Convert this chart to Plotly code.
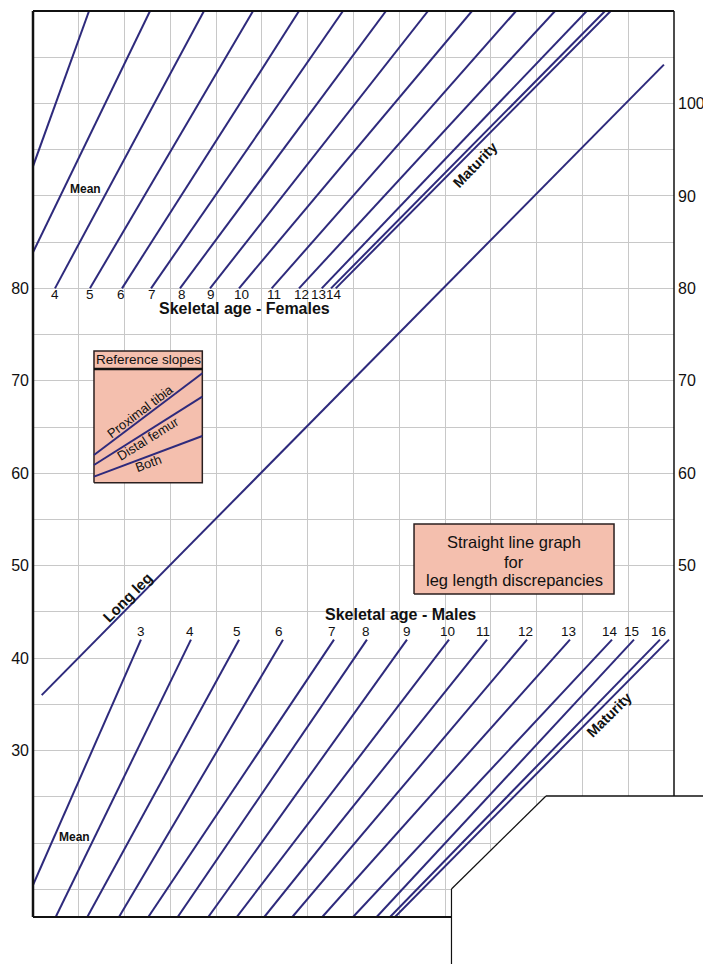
import plotly.graph_objects as go

# ---------------- data (chart units: x 0..70, y 12..110) ----------------
X_RANGE = [0, 70]
Y_RANGE = [12, 110]

# Female skeletal-age lines (from start point up to the top border)
female_start_x = [0, 0, 2.40, 6.22, 9.72, 12.89, 16.05, 19.33, 22.50, 26.06, 29.05, 31.53, 32.54, 33.06]
female_start_y = [93.2, 83.9, 80, 80, 80, 80, 80, 80, 80, 80, 80, 80, 80, 80]
female_end_x = [6.12, 12.78, 18.67, 24.03, 29.05, 33.85, 38.55, 43.14, 47.94, 52.75, 57.01, 60.47, 62.47, 63.09]
female_end_y = [110] * 14

female_labels = ["4", "5", "6", "7", "8", "9", "10", "11", "12", "13", "14"]
female_label_x = [2.40, 6.22, 9.61, 12.99, 16.27, 19.44, 22.82, 26.31, 29.27, 31.13, 32.87]
female_label_y = 79.3

# Male skeletal-age lines (from top point down to the bottom / left border)
male_top_x = [11.79, 17.25, 22.50, 27.30, 32.87, 36.47, 40.84, 45.43, 49.58, 53.95, 58.64, 63.23, 65.63, 68.47, 69.46]
male_top_y = [42] * 15
male_bottom_x = [0, 2.48, 5.93, 9.39, 12.59, 15.80, 19.14, 22.25, 25.26, 28.32, 31.59, 34.95, 37.53, 38.99, 39.53]
male_bottom_y = [15.46] + [12] * 14

male_labels = ["3", "4", "5", "6", "7", "8", "9", "10", "11", "12", "13", "14", "15", "16"]
male_label_x = [11.79, 17.15, 22.28, 26.90, 32.69, 36.37, 40.88, 45.25, 49.18, 53.80, 58.53, 63.01, 65.38, 68.29]
male_label_y = 42.85

# Long leg line
long_leg_x = [0.95, 68.9]
long_leg_y = [36.0, 104.2]

# Reference slopes (inside the box)
ref_names = ["Proximal tibia", "Distal femur", "Both"]
ref_x = [6.66, 18.49]
ref_y0 = [61.97, 60.89, 59.63]
ref_y1 = [70.81, 68.28, 64.03]

# Axis tick labels
left_ticks = [30, 40, 50, 60, 70, 80]
right_ticks = [50, 60, 70, 80, 90, 100]
grid_y = list(range(15, 110, 5))
grid_x = list(range(5, 70, 5))

# ---------------- styles / layout constants ----------------
NAVY = "#2e2a7c"
SALMON = "#f4bfae"
GRID = "#c8c8c8"
FONT = "Liberation Sans, Arial, Helvetica, sans-serif"

# page body has an 8px margin, so the figure is drawn 8px in from the corner
W, H = 703, 956
ML, MR, MT, MB = 25, 37, 3, 47

# cutout corner (bottom right) in chart units
CUT_X = 45.7
CUT_Y = 15.03
DIAG_X = 56.02
STEP_Y = 25.09

REF_BOX = dict(x0=6.66, x1=18.49, y0=58.98, y1=73.22, header=71.28)
INFO_BOX = dict(x0=41.61, x1=63.45, y0=46.94, y1=54.51)


def xp(v):
    return (v - X_RANGE[0]) / (X_RANGE[1] - X_RANGE[0])


def yp(v):
    return (v - Y_RANGE[0]) / (Y_RANGE[1] - Y_RANGE[0])


def segs(x0s, y0s, x1s, y1s):
    xs, ys = [], []
    for a, b, c, d in zip(x0s, y0s, x1s, y1s):
        xs += [a, c, None]
        ys += [b, d, None]
    return xs, ys


fig = go.Figure()

# white cutout (hides grid)
fig.add_trace(go.Scatter(
    x=[CUT_X, CUT_X, DIAG_X, X_RANGE[1] + 1, X_RANGE[1] + 1, CUT_X],
    y=[Y_RANGE[0] - 1, CUT_Y, STEP_Y, STEP_Y, Y_RANGE[0] - 1, Y_RANGE[0] - 1],
    fill="toself", fillcolor="white", mode="none", hoverinfo="skip", showlegend=False))

# boxes
for b in (REF_BOX, INFO_BOX):
    fig.add_trace(go.Scatter(
        x=[b["x0"], b["x1"], b["x1"], b["x0"], b["x0"]],
        y=[b["y0"], b["y0"], b["y1"], b["y1"], b["y0"]],
        fill="toself", fillcolor=SALMON, mode="lines",
        line=dict(color="#2a1f1f", width=1.5), hoverinfo="skip", showlegend=False))
fig.add_trace(go.Scatter(
    x=[REF_BOX["x0"], REF_BOX["x1"]], y=[REF_BOX["header"], REF_BOX["header"]],
    mode="lines", line=dict(color="#111", width=2.5), hoverinfo="skip", showlegend=False))

# female lines
fx, fy = segs(female_start_x, female_start_y, female_end_x, female_end_y)
fig.add_trace(go.Scatter(x=fx, y=fy, mode="lines", line=dict(color=NAVY, width=2),
                         hoverinfo="skip", showlegend=False))
# male lines
mx, my = segs(male_top_x, male_top_y, male_bottom_x, male_bottom_y)
fig.add_trace(go.Scatter(x=mx, y=my, mode="lines", line=dict(color=NAVY, width=2),
                         hoverinfo="skip", showlegend=False))
# long leg
fig.add_trace(go.Scatter(x=long_leg_x, y=long_leg_y, mode="lines", line=dict(color=NAVY, width=2),
                         hoverinfo="skip", showlegend=False))
# reference slopes
rx, ry = segs([ref_x[0]] * 3, ref_y0, [ref_x[1]] * 3, ref_y1)
fig.add_trace(go.Scatter(x=rx, y=ry, mode="lines", line=dict(color=NAVY, width=2),
                         hoverinfo="skip", showlegend=False))
# dummy for right axis
fig.add_trace(go.Scatter(x=[None], y=[None], yaxis="y2", showlegend=False, hoverinfo="skip"))

ann = []


def txt(x, y, t, size, bold=False, angle=0, color="#111"):
    ann.append(dict(x=x, y=y, xref="x", yref="y", text=f"<b>{t}</b>" if bold else t,
                    showarrow=False, textangle=angle, xanchor="center", yanchor="middle",
                    borderpad=0,
                    font=dict(size=size, color=color, family=FONT)))


for lab, x in zip(female_labels, female_label_x):
    txt(x, female_label_y, lab, 13.5)
for lab, x in zip(male_labels, male_label_x):
    txt(x, male_label_y, lab, 13.5)

txt(23.15, 77.8, "Skeletal age - Females", 16, bold=True)
txt(40.08, 44.67, "Skeletal age - Males", 16, bold=True)
txt(5.68, 90.71, "Mean", 12, bold=True)
txt(4.51, 20.69, "Mean", 12, bold=True)
txt(48.27, 93.34, "Maturity", 14.5, bold=True, angle=-46)
txt(62.9, 33.85, "Maturity", 14.5, bold=True, angle=-45)
txt(10.27, 46.61, "Long leg", 15, bold=True, angle=-45)

txt(12.56, 72.25, "Reference slopes", 13.5)
txt(11.69, 66.66, "Proximal tibia", 13, angle=-37)
txt(12.59, 63.78, "Distal femur", 13, angle=-32)
txt(12.59, 61.07, "Both", 13, angle=-20.5)

txt(52.53, 52.56, "Straight line graph", 16.5)
txt(52.53, 50.40, "for", 16.5)
txt(52.53, 48.45, "leg length discrepancies", 16.5)

# frame shapes (paper coords)
shapes = []


def pline(x0, y0, x1, y1, w, c="#111"):
    shapes.append(dict(type="line", xref="paper", yref="paper", x0=x0, y0=y0, x1=x1, y1=y1,
                       line=dict(color=c, width=w), layer="above"))


right_edge = (W - ML) / (W - ML - MR)
bottom_edge = -MB / (H - MT - MB)
pline(0, 0, 0, 1, 2.5)                      # left
pline(0, 1, 1, 1, 2)                        # top
pline(1, 1, 1, yp(STEP_Y), 1.5)             # right
pline(0, 0, xp(CUT_X), 0, 2)                # bottom
pline(xp(CUT_X), yp(CUT_Y), xp(CUT_X), bottom_edge, 1.2)
pline(xp(CUT_X), yp(CUT_Y), xp(DIAG_X), yp(STEP_Y), 1.2)
pline(xp(DIAG_X), yp(STEP_Y), right_edge, yp(STEP_Y), 1.5)

fig.update_layout(
    width=W, height=H,
    margin=dict(l=ML, r=MR, t=MT, b=MB, pad=0, autoexpand=False),
    paper_bgcolor="white", plot_bgcolor="white",
    font=dict(family=FONT, color="#111"),
    xaxis=dict(range=X_RANGE, tickvals=grid_x, showticklabels=False, showgrid=True,
               gridcolor=GRID, gridwidth=1, zeroline=False, showline=False, ticks="",
               automargin=False),
    yaxis=dict(range=Y_RANGE, tickvals=grid_y,
               ticktext=[str(v) if v in left_ticks else "" for v in grid_y],
               showgrid=True, gridcolor=GRID, gridwidth=1, zeroline=False, showline=False,
               ticks="", tickfont=dict(size=16, color="#111", family=FONT), ticklabelstandoff=3,
               automargin=False),
    yaxis2=dict(range=Y_RANGE, overlaying="y", side="right", tickvals=right_ticks,
                showgrid=False, zeroline=False, showline=False, ticks="",
                tickfont=dict(size=16, color="#111", family=FONT), ticklabelstandoff=3,
                automargin=False),
    annotations=ann, shapes=shapes, showlegend=False,
)

fig.write_html("out.html")
